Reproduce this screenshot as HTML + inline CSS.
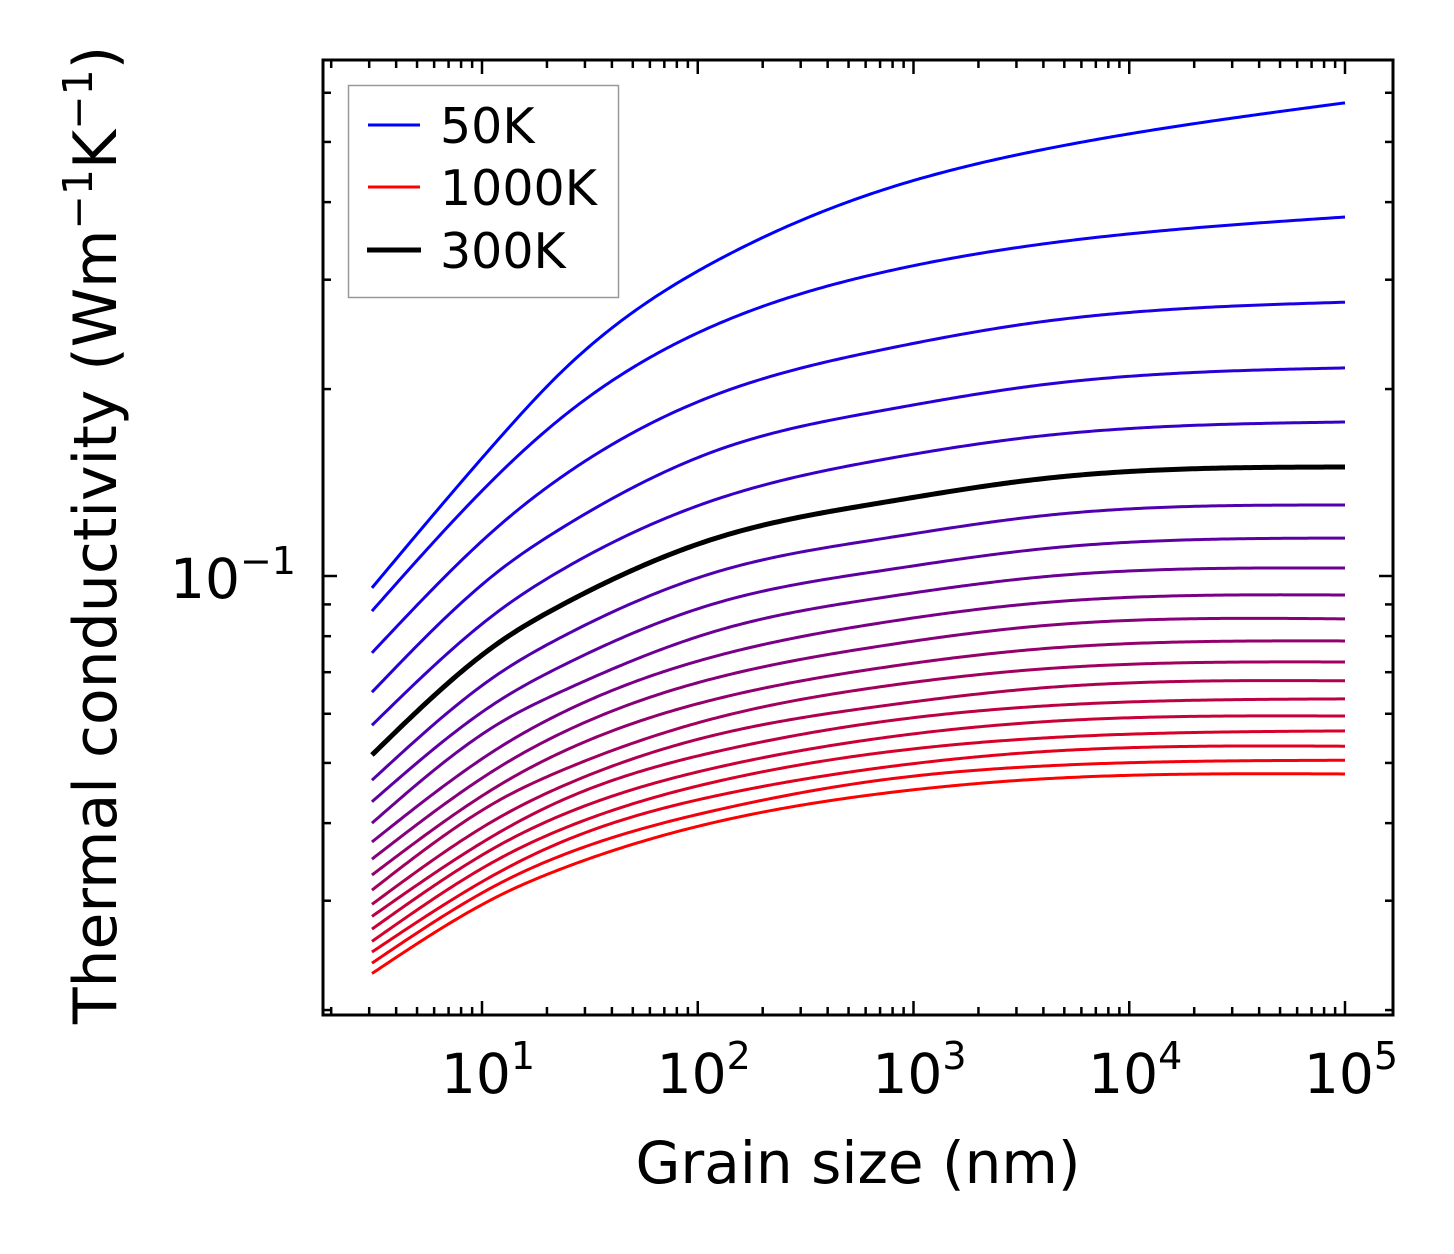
<!DOCTYPE html>
<html><head><meta charset="utf-8"><style>
html,body{margin:0;padding:0;background:#fff;}
svg{display:block;font-family:"DejaVu Sans","Liberation Sans",sans-serif;}
</style></head><body>
<svg id="chart" width="1454" height="1254" viewBox="0 0 1454 1254" xmlns="http://www.w3.org/2000/svg">
<rect width="1454" height="1254" fill="#fff"/>
<g id="curves"></g>
<g id="ticks"></g>
<rect x="323" y="60" width="1070" height="955" fill="none" stroke="#000" stroke-width="3"/>
<g id="labels"></g>
<text x="858" y="1183" font-size="58" text-anchor="middle">Grain size (nm)</text>
<text transform="translate(116,535) rotate(-90)" font-size="60" text-anchor="middle">Thermal conductivity (Wm<tspan font-size="41" dy="-24">−1</tspan><tspan dy="24">K</tspan><tspan font-size="41" dy="-24">−1</tspan><tspan dy="24">)</tspan></text>
<g>
<rect x="348.5" y="85.5" width="270" height="212" fill="#fff" stroke="#999" stroke-width="1.5"/>
<line x1="368" y1="125" x2="420" y2="125" stroke="#0000ff" stroke-width="3"/>
<text x="440" y="143" font-size="49">50K</text>
<line x1="368" y1="187" x2="420" y2="187" stroke="#ff0000" stroke-width="3"/>
<text x="440" y="205" font-size="49">1000K</text>
<line x1="367" y1="250" x2="421" y2="250" stroke="#000" stroke-width="5"/>
<text x="440" y="268" font-size="49">300K</text>
</g>
</svg>
<script>
const grainSizes = [3.09, 12.1, 23.0, 126.8, 699, 3858, 100000];
const temperatures = [50,100,150,200,250,300,350,400,450,500,550,600,650,700,750,800,850,900,950,1000];
const k50 = [0.0957,0.167,0.212,0.324,0.417,0.485,0.578];
const k100 = [0.0878,0.1465,0.179,0.2555,0.3076,0.342,0.3785];
const k150 = [0.0752,0.1208,0.1438,0.197,0.231,0.2565,0.276];
const k200 = [0.0650,0.1022,0.119,0.160,0.1844,0.203,0.2163];
const k250 = [0.0575,0.0881,0.1019,0.1335,0.1537,0.168,0.177];
const k300 = [0.0515,0.0783,0.0895,0.1156,0.1311,0.1433,0.1498];
const k350 = [0.0469,0.0698,0.0795,0.1019,0.1147,0.1249,0.1301];
const k400 = [0.0433,0.0631,0.0714,0.0908,0.1019,0.1105,0.1151];
const k450 = [0.0400,0.0580,0.0650,0.0819,0.0922,0.0996,0.1030];
const k500 = [0.0373,0.0530,0.0600,0.0746,0.0840,0.0905,0.0932];
const k550 = [0.0350,0.0493,0.0557,0.0688,0.0771,0.0831,0.0853];
const k600 = [0.0330,0.0461,0.0519,0.0636,0.0711,0.0763,0.0786];
const k650 = [0.0312,0.0436,0.0485,0.0593,0.0663,0.0708,0.0727];
const k700 = [0.0296,0.0409,0.0457,0.0557,0.0617,0.0660,0.0678];
const k750 = [0.0283,0.0387,0.0434,0.0523,0.0582,0.0617,0.0634];
const k800 = [0.0270,0.0369,0.0411,0.0493,0.0548,0.0582,0.0595];
const k850 = [0.0258,0.0351,0.0390,0.0468,0.0519,0.0548,0.0563];
const k900 = [0.0248,0.0334,0.0372,0.0444,0.0491,0.0521,0.0532];
const k950 = [0.0238,0.0320,0.0354,0.0421,0.0469,0.0494,0.0505];
const k1000 = [0.0229,0.0306,0.0337,0.0403,0.0446,0.0471,0.0480];
const series = [k50,k100,k150,k200,k250,k300,k350,k400,k450,k500,k550,k600,k650,k700,k750,k800,k850,k900,k950,k1000];
const xTickExps = [1,2,3,4,5];
const yTickExps = [-1];

const NS = "http://www.w3.org/2000/svg";
const X0 = 482, XPD = 215.75;
const Y0 = 576, YPD = 621;
const L = 323, R = 1393, T = 60, B = 1015;
function xs(v){ return X0 + (Math.log10(v) - 1) * XPD; }
function ys(v){ return Y0 - (Math.log10(v) + 1) * YPD; }

function spline(xa, ya){
  const n = xa.length, h = [], a = [], b = [], c = [], r = [], M = new Array(n).fill(0);
  for (let i=0;i<n-1;i++) h.push(xa[i+1]-xa[i]);
  for (let i=1;i<n-1;i++){
    a[i]=h[i-1]; b[i]=2*(h[i-1]+h[i]); c[i]=h[i];
    r[i]=6*((ya[i+1]-ya[i])/h[i]-(ya[i]-ya[i-1])/h[i-1]);
  }
  for (let i=2;i<n-1;i++){ const w=a[i]/b[i-1]; b[i]-=w*c[i-1]; r[i]-=w*r[i-1]; }
  for (let i=n-2;i>=1;i--){ M[i]=(r[i]-(i<n-2?c[i]*M[i+1]:0))/b[i]; }
  return function(x){
    let i=0; while (i<n-2 && x>xa[i+1]) i++;
    const t1=xa[i+1]-x, t0=x-xa[i], hi=h[i];
    return M[i]*t1*t1*t1/(6*hi) + M[i+1]*t0*t0*t0/(6*hi) + (ya[i]/hi - M[i]*hi/6)*t1 + (ya[i+1]/hi - M[i+1]*hi/6)*t0;
  };
}

const gCurves = document.getElementById('curves');
const lx = grainSizes.map(v => Math.log10(v));
function drawCurve(idx, black){
  const vals = series[idx];
  const f = spline(lx, vals.map(v => Math.log10(v)));
  const pts = [];
  const N = 300;
  for (let j=0;j<=N;j++){
    const l = lx[0] + (lx[lx.length-1]-lx[0])*j/N;
    const v = Math.pow(10, f(l));
    pts.push(xs(Math.pow(10,l)).toFixed(2)+','+ys(v).toFixed(2));
  }
  const p = document.createElementNS(NS,'polyline');
  p.setAttribute('points', pts.join(' '));
  p.setAttribute('fill','none');
  p.setAttribute('stroke-linejoin','round');
  const t = idx/(series.length-1);
  p.setAttribute('stroke', black ? '#000' : 'rgb('+Math.round(255*t)+',0,'+Math.round(255*(1-t))+')');
  p.setAttribute('stroke-width', black ? 5 : 3);
  
  
  gCurves.appendChild(p);
}
const blackIdx = temperatures.indexOf(300);
for (let i=0;i<series.length;i++){ if (i!==blackIdx) drawCurve(i,false); }
drawCurve(blackIdx,true);

const gT = document.getElementById('ticks');
function tick(x1,y1,x2,y2,name){
  const l = document.createElementNS(NS,'line');
  l.setAttribute('x1',x1); l.setAttribute('y1',y1); l.setAttribute('x2',x2); l.setAttribute('y2',y2);
  l.setAttribute('stroke','#000'); l.setAttribute('stroke-width','2.5');
  
  
  gT.appendChild(l);
}
for (let e=0;e<=5;e++){
  for (let k=1;k<=9;k++){
    const x = xs(k*Math.pow(10,e));
    if (x < L || x > R) continue;
    const len = (k===1) ? 14 : 8;
    tick(x,B,x,B-len,'x-tick');
    tick(x,T,x,T+len,'x-tick-top');
  }
}
for (let e=-2;e<=0;e++){
  for (let k=1;k<=9;k++){
    const y = ys(k*Math.pow(10,e));
    if (y < T || y > B) continue;
    const len = (k===1) ? 14 : 8;
    tick(L,y,L+len,y,'y-tick');
    tick(R,y,R-len,y,'y-tick-right');
  }
}
const gL = document.getElementById('labels');
xTickExps.forEach(e => {
  const t = document.createElementNS(NS,'text');
  t.setAttribute('x', xs(Math.pow(10,e)) + 6);
  t.setAttribute('y', 1093);
  t.setAttribute('font-size','55');
  t.setAttribute('text-anchor','middle');
  
  
  t.innerHTML = '10<tspan font-size="38" dy="-24">' + e + '</tspan>';
  gL.appendChild(t);
});
yTickExps.forEach(e => {
  const t = document.createElementNS(NS,'text');
  t.setAttribute('x', 296);
  t.setAttribute('y', ys(Math.pow(10,e)) + 22);
  t.setAttribute('font-size','55');
  t.setAttribute('text-anchor','end');
  
  
  t.innerHTML = '10<tspan font-size="38" dy="-24">−' + Math.abs(e) + '</tspan>';
  gL.appendChild(t);
});
</script>
</body></html>
